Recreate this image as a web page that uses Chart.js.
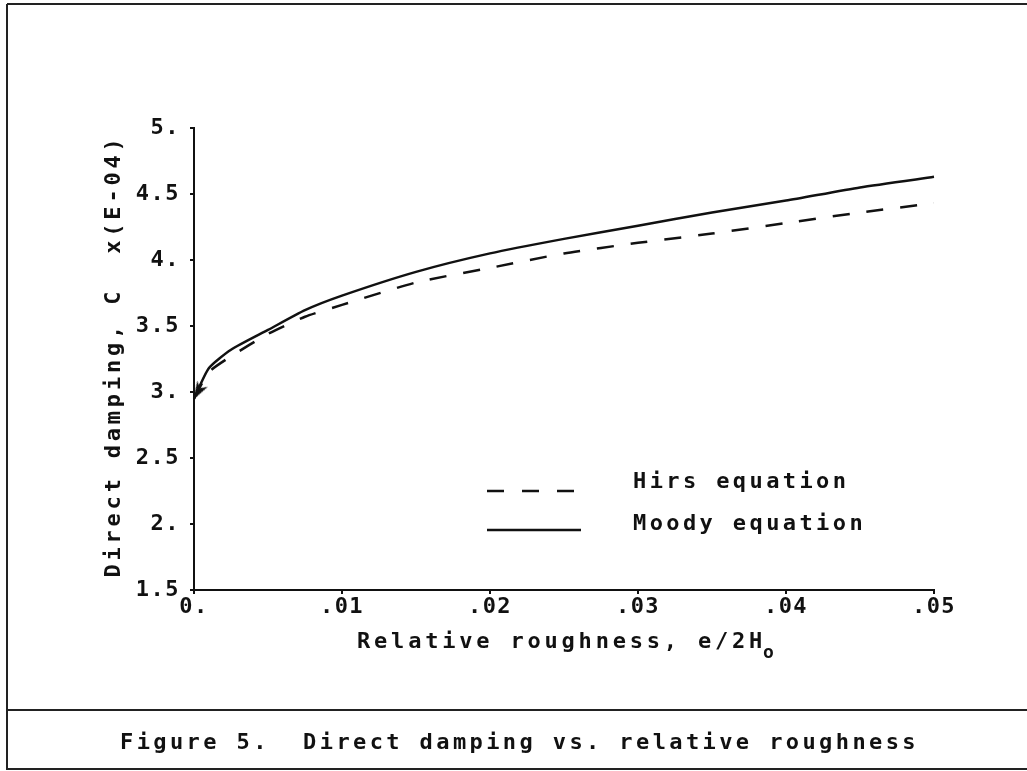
<!DOCTYPE html>
<html><head><meta charset="utf-8">
<script src="https://cdn.jsdelivr.net/npm/chart.js@4"></script>
<style>html,body{margin:0;padding:0;background:#fff;overflow:hidden}</style>
</head><body>
<canvas id="c" width="1027" height="771"></canvas>
<script>
const roughness = [0, 0.001, 0.0025, 0.005, 0.0075, 0.01, 0.015, 0.02, 0.025, 0.03, 0.035, 0.04, 0.045, 0.05];
const hirsDamping = [2.95, 3.15, 3.27, 3.44, 3.57, 3.66, 3.83, 3.94, 4.05, 4.13, 4.20, 4.28, 4.36, 4.43];
const moodyDamping = [2.95, 3.18, 3.32, 3.47, 3.62, 3.73, 3.91, 4.05, 4.16, 4.26, 4.36, 4.45, 4.55, 4.63];
const seriesNames = ['Hirs equation', 'Moody equation'];
const xTickLabels = ['0.', '.01', '.02', '.03', '.04', '.05'];
const yTickLabels = ['1.5', '2.', '2.5', '3.', '3.5', '4.', '4.5', '5.'];
const xTitle = 'Relative roughness, e/2H';
const xTitleSub = 'o';
const yTitle = 'Direct damping, C  x(E-04)';
const caption = 'Figure 5.  Direct damping vs. relative roughness';

const FONT = '"DejaVu Sans Mono", "Liberation Mono", monospace';
const INK = '#111';

const toPts = (ys) => roughness.map((x, i) => ({x: x, y: ys[i]}));

// arrowhead glyph: tip at the canvas centre, body extending upward
const arrow = document.createElement('canvas');
arrow.width = 40; arrow.height = 40;
(function () {
  const a = arrow.getContext('2d');
  a.fillStyle = INK;
  a.beginPath();
  a.moveTo(20, 21);
  a.lineTo(14, 3);
  a.lineTo(20, 8);
  a.lineTo(26, 3);
  a.closePath();
  a.fill();
})();

const decor = {
  id: 'decor',
  beforeDraw(chart) {
    chart.ctx.letterSpacing = '1.5px';
  },
  afterDraw(chart) {
    const ctx = chart.ctx;
    ctx.save();
    // frame
    ctx.strokeStyle = '#222';
    ctx.lineWidth = 2;
    ctx.beginPath();
    ctx.moveTo(7, 4); ctx.lineTo(1027, 4);
    ctx.moveTo(7, 4); ctx.lineTo(7, 770);
    ctx.moveTo(7, 710); ctx.lineTo(1027, 710);
    ctx.moveTo(7, 769); ctx.lineTo(1027, 769);
    ctx.stroke();

    ctx.fillStyle = INK;
    ctx.textBaseline = 'middle';
    ctx.textAlign = 'left';
    // x title
    ctx.letterSpacing = '3.8px';
    ctx.font = 'bold 22px ' + FONT;
    ctx.fillText(xTitle, 357, 642);
    const w = ctx.measureText(xTitle).width;
    ctx.letterSpacing = '0px';
    ctx.font = 'bold 18px ' + FONT;
    ctx.fillText(xTitleSub, 357 + w - 3, 653);

    // y title
    ctx.save();
    ctx.translate(114, 356);
    ctx.rotate(-Math.PI / 2);
    ctx.letterSpacing = '3.8px';
    ctx.font = 'bold 22px ' + FONT;
    ctx.textAlign = 'center';
    ctx.fillText(yTitle, 0, 0);
    ctx.restore();

    // legend
    const ds = chart.data.datasets;
    ctx.lineWidth = 2.5;
    ctx.strokeStyle = INK;
    ctx.setLineDash([17, 18]);
    ctx.beginPath(); ctx.moveTo(487, 491); ctx.lineTo(576, 491); ctx.stroke();
    ctx.setLineDash([]);
    ctx.beginPath(); ctx.moveTo(487, 530); ctx.lineTo(581, 530); ctx.stroke();
    ctx.letterSpacing = '3.4px';
    ctx.font = 'bold 22px ' + FONT;
    ctx.textAlign = 'left';
    ctx.fillText(ds[0].label, 633, 482);
    ctx.fillText(ds[1].label, 633, 524);

    // caption
    ctx.fillText(caption, 120, 743);
    ctx.restore();
  }
};

new Chart(document.getElementById('c'), {
  type: 'scatter',
  data: {
    datasets: [
      {
        label: seriesNames[0],
        data: toPts(hirsDamping),
        showLine: true,
        borderColor: INK,
        borderWidth: 2.5,
        borderDash: [17, 17],
        pointRadius: 0,
        tension: 0.2,
        fill: false
      },
      {
        label: seriesNames[1],
        data: toPts(moodyDamping),
        showLine: true,
        borderColor: INK,
        backgroundColor: INK,
        borderWidth: 2.5,
        pointRadius: (c) => c.dataIndex === 0 ? 8 : 0,
        pointStyle: arrow,
        rotation: 30,
        tension: 0.2,
        clip: 20,
        fill: false
      }
    ]
  },
  options: {
    responsive: false,
    animation: false,
    layout: {padding: {left: 0, top: 128, right: 93, bottom: 0}},
    plugins: {legend: {display: false}, tooltip: {enabled: false}},
    scales: {
      x: {
        type: 'linear', min: 0, max: 0.05,
        afterFit(s) { s.height = 181; },
        border: {color: INK, width: 2},
        grid: {drawOnChartArea: false, color: INK, lineWidth: 2, tickLength: 4},
        ticks: {
          stepSize: 0.01, autoSkip: false, maxRotation: 0, padding: 0,
          color: INK, font: {family: FONT, size: 22, weight: 'bold'},
          callback: (v) => xTickLabels[Math.round(v / 0.01)]
        }
      },
      y: {
        type: 'linear', min: 1.5, max: 5,
        afterFit(s) { s.width = 194; },
        border: {color: INK, width: 2},
        grid: {drawOnChartArea: false, color: INK, lineWidth: 2, tickLength: 4},
        ticks: {
          stepSize: 0.5, autoSkip: false, padding: 10,
          color: INK, font: {family: FONT, size: 22, weight: 'bold'},
          callback: (v) => yTickLabels[Math.round((v - 1.5) / 0.5)]
        }
      }
    }
  },
  plugins: [decor]
});
</script>
</body></html>
